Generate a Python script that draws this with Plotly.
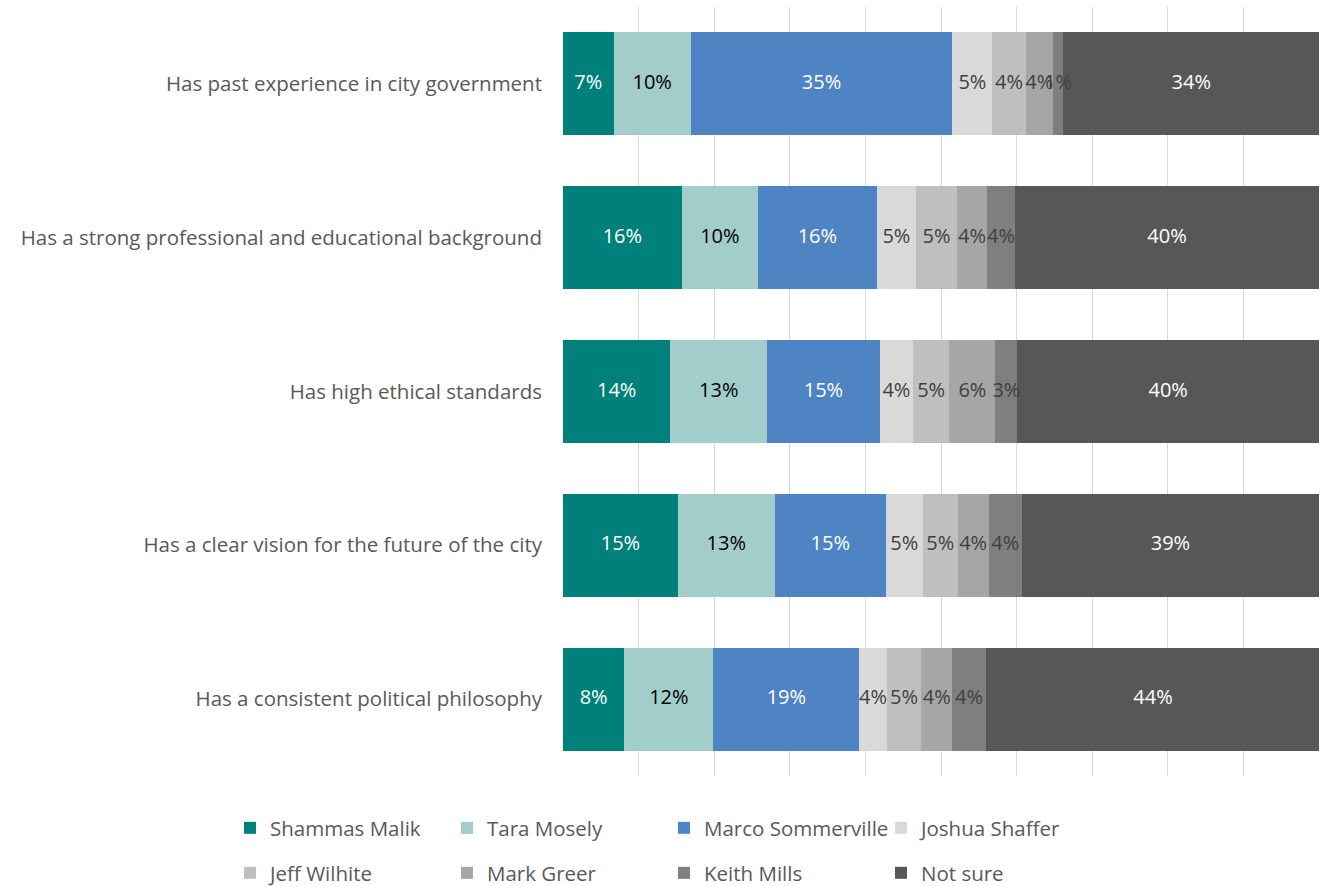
import plotly.graph_objects as go
import numpy as np

categories = [
    "Has past experience in city government",
    "Has a strong professional and educational background",
    "Has high ethical standards",
    "Has a clear vision for the future of the city",
    "Has a consistent political philosophy",
]
series_names = ["Shammas Malik", "Tara Mosely", "Marco Sommerville", "Joshua Shaffer",
                "Jeff Wilhite", "Mark Greer", "Keith Mills", "Not sure"]

shammas_malik = [6.7, 15.7, 14.2, 15.2, 8.1]
tara_mosely = [10.2, 10.1, 12.8, 12.8, 11.8]
marco_sommerville = [34.6, 15.7, 14.9, 14.7, 19.3]
joshua_shaffer = [5.3, 5.2, 4.4, 4.9, 3.6]
jeff_wilhite = [4.4, 5.4, 4.8, 4.6, 4.6]
mark_greer = [3.6, 4.0, 6.1, 4.1, 4.1]
keith_mills = [1.4, 3.7, 2.9, 4.4, 4.4]
not_sure = [33.8, 40.2, 39.9, 39.3, 44.3]

series_values = [shammas_malik, tara_mosely, marco_sommerville, joshua_shaffer,
                 jeff_wilhite, mark_greer, keith_mills, not_sure]

colors = ["#00807A", "#A2CDCB", "#4E84C4", "#D9D9D9", "#BFBFBF", "#A6A6A6", "#7F7F7F", "#575757"]
label_colors = ["#FFFFFF", "#000000", "#FFFFFF", "#404040", "#404040", "#404040", "#404040", "#FFFFFF"]

FONT = "Open Sans"
FS = 20.5
FS_LABEL = 20

fig = go.Figure()
for i, (name, vals) in enumerate(zip(series_names, series_values)):
    fig.add_trace(go.Bar(
        name=name, y=categories, x=vals, orientation="h",
        marker=dict(color=colors[i], line=dict(width=0)),
        legend="legend" if i < 4 else "legend2",
        hoverinfo="x+name",
    ))

# data labels drawn above all bars
cum = np.zeros(len(categories))
for i, vals in enumerate(series_values):
    v = np.array(vals, dtype=float)
    mid = cum + v / 2
    cum = cum + v
    fig.add_trace(go.Scatter(
        x=mid, y=categories, mode="text",
        text=[f"{round(x):.0f}%" for x in v],
        textfont=dict(family=FONT, size=FS_LABEL, color=label_colors[i]),
        showlegend=False, hoverinfo="skip", cliponaxis=False,
    ))

W, H = 1331, 886
ML, MR, MT, MB = 563, 12, 7, 110
pw, ph = W - ML - MR, H - MT - MB
leg_x = (230 - ML) / pw

fig.update_layout(
    width=W, height=H,
    barmode="stack", bargap=0.33,
    plot_bgcolor="white", paper_bgcolor="white",
    margin=dict(l=ML, r=MR, t=MT, b=MB, autoexpand=False),
    font=dict(family=FONT, size=FS, color="#595959"),
    xaxis=dict(range=[0, 100], dtick=10, showticklabels=False, showgrid=True,
               gridcolor="#D9D9D9", gridwidth=1, zeroline=False, fixedrange=True),
    yaxis=dict(autorange="reversed", showgrid=False, ticks="", ticklabelstandoff=20,
               automargin=False,
               tickfont=dict(family=FONT, size=FS, color="#595959")),
    legend=dict(orientation="h", traceorder="normal",
                x=leg_x, y=-(828 - (H - MB)) / ph, xanchor="left", yanchor="middle",
                entrywidth=172, entrywidthmode="pixels",
                font=dict(family=FONT, size=FS, color="#595959"), itemclick=False),
    legend2=dict(orientation="h", traceorder="normal",
                 x=leg_x, y=-(873 - (H - MB)) / ph, xanchor="left", yanchor="middle",
                 entrywidth=172, entrywidthmode="pixels",
                 font=dict(family=FONT, size=FS, color="#595959"), itemclick=False),
)

fig.write_html("out.html", config={"displayModeBar": False},
               post_script="document.body.style.margin='0';")
